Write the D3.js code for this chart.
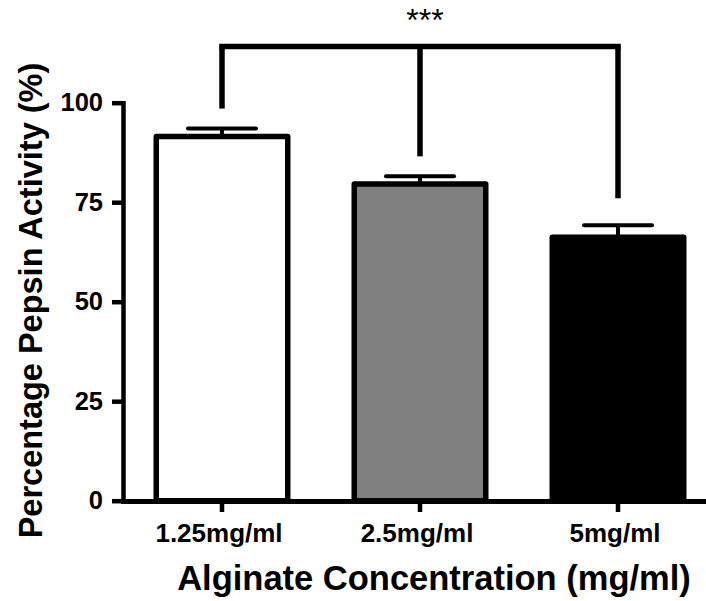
<!DOCTYPE html>
<html>
<head>
<meta charset="utf-8">
<script src="https://cdn.jsdelivr.net/npm/d3@7/dist/d3.min.js"></script>
<style>
  html, body { margin: 0; padding: 0; background: #fff; }
  svg { display: block; }
  text { font-family: Arial, "Liberation Sans", sans-serif; }
</style>
</head>
<body>
<svg id="chart" width="706" height="601"></svg>
<script>
// Pepsin activity at three alginate concentrations (mean ± SEM)
const categories = ["1.25mg/ml", "2.5mg/ml", "5mg/ml"];
const activity = [91.5, 79.6, 66.2];
const sem = [2.0, 1.9, 3.0];
const barFills = ["#ffffff", "#808080", "#000000"];
const yTicks = [0, 25, 50, 75, 100];
const significance = "***";
const xTitle = "Alginate Concentration (mg/ml)";
const yTitle = "Percentage Pepsin Activity (%)";

const svg = d3.select("#chart");

const x = d3.scaleBand()
  .domain(categories)
  .range([123, 717])
  .paddingInner(0.336)
  .paddingOuter(0.168);

const y = d3.scaleLinear()
  .domain([0, 100])
  .range([500.7, 102.7]);

// Bars
svg.append("g").selectAll("rect")
  .data(categories)
  .join("rect")
  .attr("x", d => x(d))
  .attr("y", (d, i) => y(activity[i]))
  .attr("width", x.bandwidth())
  .attr("height", (d, i) => y(0) - y(activity[i]))
  .attr("fill", (d, i) => barFills[i])
  .attr("stroke", "#000")
  .attr("stroke-width", 5.5)
  .attr("stroke-linejoin", "round");

// Error bars (upper whisker only)
const capHalf = 34;
const eb = svg.append("g").attr("stroke", "#000").attr("stroke-width", 4);
categories.forEach((c, i) => {
  const cx = x(c) + x.bandwidth() / 2;
  eb.append("line")
    .attr("x1", cx).attr("x2", cx)
    .attr("y1", y(activity[i])).attr("y2", y(activity[i] + sem[i]));
  eb.append("line")
    .attr("x1", cx - capHalf).attr("x2", cx + capHalf)
    .attr("y1", y(activity[i] + sem[i])).attr("y2", y(activity[i] + sem[i]))
    .attr("stroke-linecap", "round");
});

// Y axis
const yAxis = svg.append("g")
  .attr("transform", "translate(123,0)")
  .call(d3.axisLeft(y).tickValues(yTicks).tickSize(11).tickSizeOuter(0).tickPadding(9));
yAxis.select(".domain").attr("stroke-width", 4.5).attr("stroke-linecap", "square");
yAxis.selectAll(".tick line").attr("stroke-width", 4.5);
yAxis.selectAll(".tick text")
  .attr("font-size", 25.5).attr("font-weight", "bold").attr("fill", "#000")
  .attr("font-family", "Arial, 'Liberation Sans', sans-serif");

// X axis
const xAxis = svg.append("g")
  .attr("transform", "translate(0,501)")
  .call(d3.axisBottom(x).tickSize(11).tickSizeOuter(0).tickPadding(12));
xAxis.select(".domain").attr("stroke-width", 5).attr("stroke-linecap", "square");
xAxis.selectAll(".tick line").attr("stroke-width", 4.5);
xAxis.selectAll(".tick text")
  .attr("dx", -3)
  .attr("font-size", 26).attr("font-weight", "bold").attr("fill", "#000")
  .attr("font-family", "Arial, 'Liberation Sans', sans-serif");

// Axis titles
svg.append("text")
  .attr("x", 434).attr("y", 590)
  .attr("text-anchor", "middle")
  .attr("font-size", 34.5).attr("font-weight", "bold")
  .text(xTitle);

svg.append("text")
  .attr("transform", "translate(42,300.5) rotate(-90)")
  .attr("text-anchor", "middle")
  .attr("font-size", 32.5).attr("font-weight", "bold")
  .text(yTitle);

// Significance bracket linking all three groups
const bracketY = 46.5;
const legGap = [20, 20, 27];
const centers = categories.map(c => x(c) + x.bandwidth() / 2);
const br = svg.append("g").attr("stroke", "#000").attr("stroke-width", 5.5).attr("fill", "none");
br.append("line")
  .attr("x1", centers[0]).attr("x2", centers[2])
  .attr("y1", bracketY).attr("y2", bracketY)
  .attr("stroke-linecap", "square");
categories.forEach((c, i) => {
  br.append("line")
    .attr("x1", centers[i]).attr("x2", centers[i])
    .attr("y1", bracketY).attr("y2", y(activity[i] + sem[i]) - legGap[i]);
});

svg.append("text")
  .attr("x", 425).attr("y", 31)
  .attr("text-anchor", "middle")
  .attr("font-size", 32)
  .text(significance);
</script>
</body>
</html>
